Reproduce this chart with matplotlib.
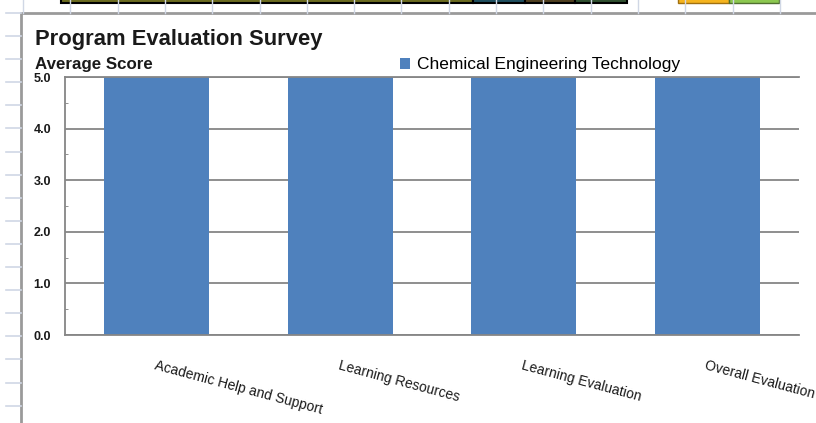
import matplotlib.pyplot as plt
from matplotlib.patches import Rectangle
import numpy as np

# data
categories = ['Academic Help and Support', 'Learning Resources',
              'Learning Evaluation', 'Overall Evaluation']
scores = [5.0, 5.0, 5.0, 5.0]
series_name = 'Chemical Engineering Technology'
yticks = [0.0, 1.0, 2.0, 3.0, 4.0, 5.0]

plt.rcParams['font.family'] = ['Liberation Sans', 'DejaVu Sans']

W, H = 816, 423
fig = plt.figure(figsize=(W / 100, H / 100), dpi=100)

# spreadsheet behind the chart (pixel coords)
bg = fig.add_axes([0, 0, 1, 1], zorder=0)
bg.set_xlim(0, W)
bg.set_ylim(H, 0)
bg.axis('off')
grid_c = '#d0d7e5'
for x in np.arange(23, W, 47.3):
    bg.plot([x, x], [0, 13], color=grid_c, lw=1)
for y in np.arange(13, H, 23.1):
    bg.plot([6, 21], [y, y], color=grid_c, lw=1.2)
# coloured cells at the top edge
bg.add_patch(Rectangle((61, -2), 412, 5, facecolor='#6b6b1f', edgecolor='black', lw=1.5))
bg.add_patch(Rectangle((473, -2), 52, 5, facecolor='#1f4f5f', edgecolor='black', lw=1.5))
bg.add_patch(Rectangle((525, -2), 50, 5, facecolor='#4f3f1f', edgecolor='black', lw=1.5))
bg.add_patch(Rectangle((575, -2), 52, 5, facecolor='#2f4f2f', edgecolor='black', lw=1.5))
bg.add_patch(Rectangle((678, -2), 51, 5, facecolor='#f5b41e', edgecolor='#a07010', lw=1))
bg.add_patch(Rectangle((729, -2), 50, 5, facecolor='#8cc850', edgecolor='#507030', lw=1))
# chart area
bg.add_patch(Rectangle((21, 13), 900, 500, facecolor='white', edgecolor='#9a9a9a', lw=2))

bg.text(35, 45, 'Program Evaluation Survey', fontsize=15.8, fontweight='bold', color='#1a1a1a')
bg.text(35, 69, 'Average Score', fontsize=12.2, fontweight='bold', color='#1a1a1a')

# plot area
left, right, top, bottom = 65, 799, 77, 335
ax = fig.add_axes([left / W, 1 - bottom / H, (right - left) / W, (bottom - top) / H], zorder=1)
x = np.arange(len(categories))
bars = ax.bar(x, scores, width=0.57, color='#4f81bd', label=series_name, zorder=2)
ax.set_xlim(-0.5, len(categories) - 0.5)
ax.set_ylim(0, 5)
ax.set_yticks(yticks)
ax.set_yticklabels([f'{v:.1f}' for v in yticks], fontsize=9, fontweight='bold', color='#1a1a1a')
ax.set_yticks(np.arange(0.5, 5, 1.0), minor=True)
ax.tick_params(axis='y', which='major', length=0, pad=10)
ax.tick_params(axis='y', which='minor', direction='in', length=2, color='#808080')
ax.grid(axis='y', color='#868686', lw=1.3, zorder=1)
ax.set_xticks(x)
ax.set_xticklabels(categories, rotation=-15, ha='left', va='top', rotation_mode='anchor',
                   fontsize=10, color='#1a1a1a')
ax.tick_params(axis='x', length=0, pad=17)
for s in ['left', 'bottom', 'top']:
    ax.spines[s].set_color('#868686')
    ax.spines[s].set_linewidth(1.3)
ax.spines['right'].set_visible(False)

ax.legend(loc='center left', bbox_to_anchor=(400 / W, 1 - 65 / H), bbox_transform=fig.transFigure,
          frameon=False, fontsize=12.5, handlelength=0.55, handleheight=0.55, handletextpad=0.45,
          borderpad=0, borderaxespad=0)

fig.savefig('out.png', dpi=100)
